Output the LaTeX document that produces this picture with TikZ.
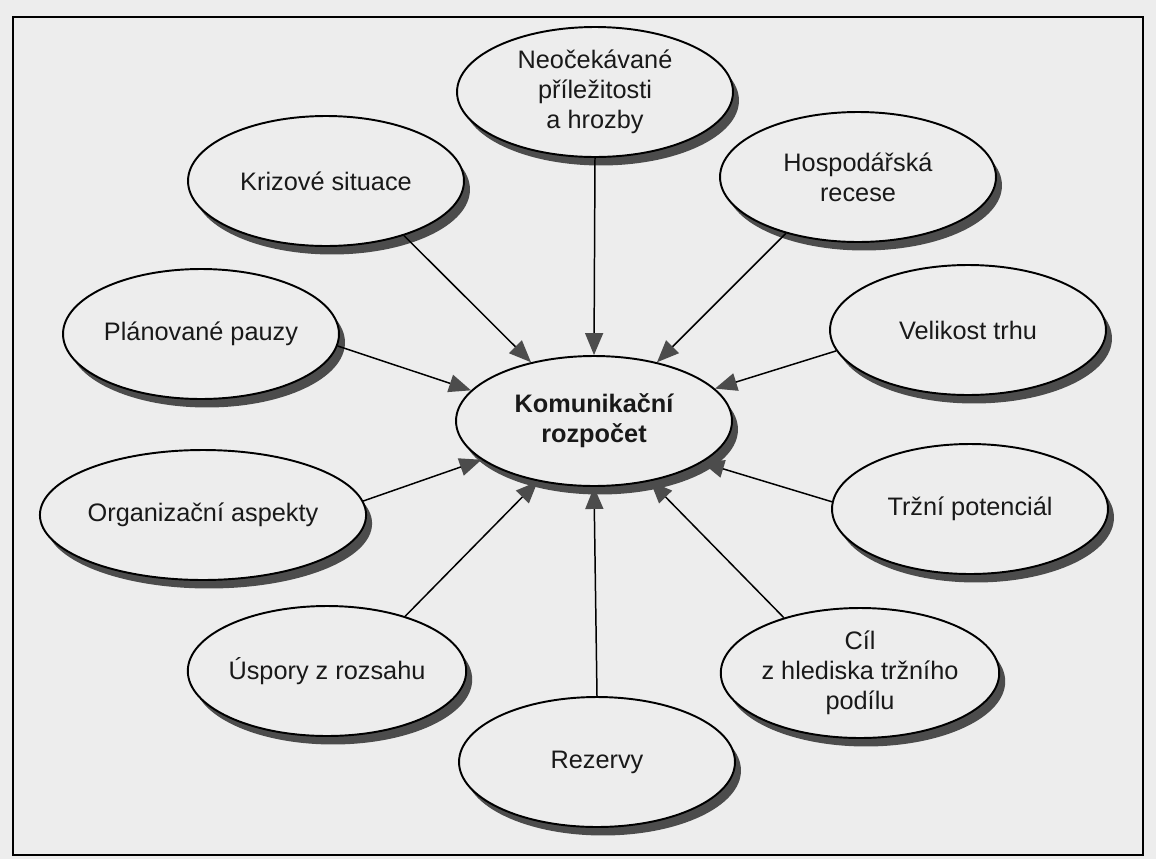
\documentclass[tikz,border=0pt]{standalone}
\usepackage{fontspec}
\setmainfont{Liberation Sans}
\usetikzlibrary{shapes.geometric, shadows, arrows.meta}
\definecolor{paper}{gray}{0.93}
\definecolor{shade}{gray}{0.3}

\begin{document}
\begin{tikzpicture}[x=0.02cm, y=-0.02cm,
    factor/.style={ellipse, draw, line width=1.1pt, fill=paper, text=black!90,
      minimum width=5.52cm, minimum height=2.6cm, inner sep=0pt, align=center,
      font=\fontsize{14.4}{17.1}\selectfont,
      drop shadow={shadow xshift=0.12cm, shadow yshift=-0.17cm, fill=shade, opacity=1}},
    link/.style={-{Triangle[length=0.44cm, width=0.36cm, color=shade]}, line width=0.85pt}]
      \useasboundingbox (0,0) rectangle (1156,859);
      \fill[paper] (0,0) rectangle (1156,859);
      \draw[line width=1.1pt] (13,17) rectangle (1143,855);

      \node[factor] (neo) at (595,92) {Neočekávané\\příležitosti\\a hrozby};
      \node[factor] (kriz) at (326,181) {Krizové situace};
      \node[factor] (rec) at (858,177) {Hospodářská\\recese};

      \node[factor] (pauz) at (201,334) {Plánované pauzy};
      \node[factor] (trh) at (968,330) {Velikost trhu};

      \node[factor, font=\fontsize{14.4}{17.1}\selectfont\bfseries] (rozp) at (594,421) {Komunikační\\rozpočet};

      \node[factor] (org) at (203,515) {Organizační aspekty};
      \node[factor] (pot) at (970,509) {Tržní potenciál};

      \node[factor] (usp) at (327,671) {Úspory z rozsahu};
      \node[factor] (cil) at (860,673) {Cíl\\z hlediska tržního\\podílu};
      \node[factor] (rez) at (597,762) {Rezervy};

      \draw[link] (node cs:name=neo, angle=-90) -- (node cs:name=rozp, angle=90);
      \draw[link] (node cs:name=kriz, angle=-35) -- (node cs:name=rozp, angle=137);
      \draw[link] (node cs:name=rec, angle=218) -- (node cs:name=rozp, angle=43);
      \draw[link] (node cs:name=pauz, angle=-5) -- (node cs:name=rozp, angle=166);
      \draw[link] (node cs:name=trh, angle=189) -- (node cs:name=rozp, angle=15);

      \draw[link] (node cs:name=org, angle=5) -- (node cs:name=rozp, angle=199);
      \draw[link] (node cs:name=pot, angle=177) -- (node cs:name=rozp, angle=-21);
      \draw[link] (node cs:name=usp, angle=35) -- (node cs:name=rozp, angle=227);
      \draw[link] (node cs:name=rez, angle=90) -- (node cs:name=rozp, angle=-90);
      \draw[link] (node cs:name=cil, angle=144) -- (node cs:name=rozp, angle=-47);
    \end{tikzpicture}
\end{document}
